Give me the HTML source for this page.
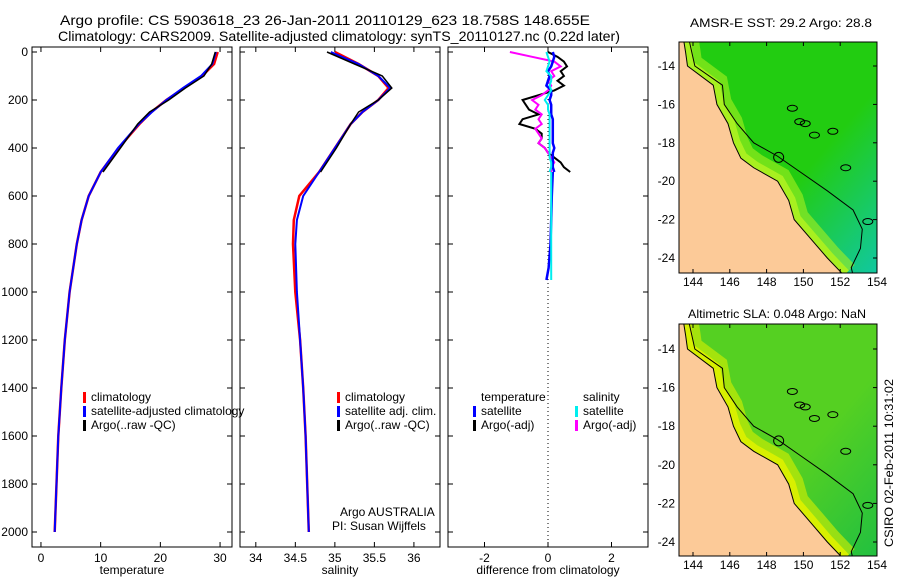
<!DOCTYPE html>
<html><head><meta charset="utf-8"><style>
html,body{margin:0;padding:0;background:#fff;width:900px;height:580px;overflow:hidden}
svg{display:block;font-family:"Liberation Sans",sans-serif;font-size:12px}
</style></head><body>
<svg id="fig" width="900" height="580" viewBox="0 0 900 580">
<text x="60" y="25" font-size="14" textLength="530" lengthAdjust="spacingAndGlyphs">Argo profile: CS 5903618_23 26-Jan-2011 20110129_623 18.758S 148.655E</text>
<text x="58" y="41" font-size="14" textLength="562" lengthAdjust="spacingAndGlyphs">Climatology: CARS2009. Satellite-adjusted climatology: synTS_20110127.nc (0.22d later)</text>
<g id="g"></g>
<text x="690" y="27" textLength="182" lengthAdjust="spacingAndGlyphs">AMSR-E SST: 29.2 Argo: 28.8</text>
<text x="688" y="318" textLength="178" lengthAdjust="spacingAndGlyphs">Altimetric SLA: 0.048 Argo: NaN</text>
<text transform="translate(893,547) rotate(-90)" textLength="168" lengthAdjust="spacingAndGlyphs">CSIRO 02-Feb-2011 10:31:02</text>
</svg>
<script>
// depth grid and series
const depths=[0,50,100,150,200,250,300,400,500,600,700,800,1000,1200,1400,1600,1800,2000];
const tempClim=[29.6,29,27,24,21,18.5,16.5,13,10,8,6.8,6,4.8,4,3.4,2.9,2.6,2.3];
const tempSat=[29.3,28.7,26.8,23.8,21,18.6,16.4,12.9,10,8,6.8,6,4.8,4,3.4,2.9,2.6,2.3];
const tempArgo=[29.2,28.6,27.3,24.2,21.4,18.2,16.2,13.3,10.4];
const salClim=[35.0,35.3,35.55,35.68,35.55,35.35,35.2,35.0,34.8,34.55,34.48,34.47,34.5,34.56,34.6,34.63,34.65,34.67];
const salSat=[34.95,35.3,35.55,35.7,35.55,35.35,35.2,35.0,34.8,34.6,34.52,34.5,34.52,34.56,34.6,34.63,34.65,34.67];
const salArgo=[34.9,35.25,35.6,35.72,35.55,35.3,35.2,35.02,34.82];
const diffDepths=[0,20,40,60,80,100,120,140,160,180,200,220,240,260,280,300,320,340,360,380,400,420,440,460,480,500];
const dTsat=[0.15,0.2,0.15,0.1,0.0,0.05,0.0,-0.05,0.1,0.1,0.05,0.1,0.1,0.1,0.15,0.15,0.15,0.15,0.15,0.15,0.2,0.15,0.15,0.15,0.15,0.2];
const dTargo=[0.0,0.3,0.5,0.6,0.4,0.5,0.3,0.5,0.2,-0.3,-0.8,-0.7,-0.6,-0.3,-0.8,-0.9,-0.4,-0.2,-0.2,-0.3,-0.1,0.0,0.2,0.4,0.5,0.7];
const dSsat=[-0.05,0.0,0.05,0.0,-0.05,0.1,0.1,0.05,0.1,0.0,-0.1,0.0,0.0,0.05,0.05,0.05,0.05,0.05,0.05,0.05,0.05,0.05,0.05,0.1,0.1,0.05];
const dSargo=[-1.2,-0.5,0.2,0.4,0.1,0.2,0.0,0.1,0.0,-0.2,-0.5,-0.3,-0.4,-0.2,-0.3,-0.2,-0.4,-0.3,-0.2,-0.3,-0.1,0.0,0.1,0.2,0.1,0.1];
const diffDeep=[500,600,700,800,900,950];
const dTdeep=[0.15,0.12,0.1,0.08,0.02,-0.05];
const dSdeep=[0.1,0.1,0.1,0.1,0.1,0.1];
const depthTicks=[0,200,400,600,800,1000,1200,1400,1600,1800,2000];
const tempTicks=[0,10,20,30], salTicks=[34,34.5,35,35.5,36], diffTicks=[-2,0,2];
const lonTicks=[144,146,148,150,152,154], latTicks=[-14,-16,-18,-20,-22,-24];
const coastLat=[-12.7,-13.3,-14,-15,-16,-17,-18,-18.8,-19.3,-20,-21,-22,-23,-24,-24.7,-24.9];
const coastLon=[143.5,143.6,143.7,145.1,145.3,145.9,146.2,146.6,147.3,148.6,149.2,149.5,150.4,151.3,152.0,152.2];
const shelfLat=[-12.7,-14,-15,-16,-17,-18,-18.7,-19.5,-20.5,-21.5,-22.5,-23.5,-24.5,-24.9];
const shelfLon=[143.8,144.1,145.6,145.7,146.4,147.3,148.6,149.8,151.3,152.7,153.2,153.1,152.6,152.7];
const reefLon=[149.4,149.8,150.6,151.6,152.3,150.1,153.5];
const reefLat=[-16.2,-16.9,-17.6,-17.4,-19.3,-17.0,-22.1];

const NS="http://www.w3.org/2000/svg", G=document.getElementById('g');
function mk(t,a,p){const e=document.createElementNS(NS,t);for(const k in a)e.setAttribute(k,a[k]);(p||G).appendChild(e);return e;}
const Y0=47,Y1=547,yD=d=>52+d*0.24;
function xs(x0,x1,v0,v1){return v=>x0+(v-v0)/(v1-v0)*(x1-x0);}
const px=[{x0:32,x:xs(32,232,-1.5,32),ticks:tempTicks,lab:'temperature',n:'temperature'},
 {x0:240,x:xs(240,440,33.8,36.33),ticks:salTicks,lab:'salinity',n:'salinity'},
 {x0:448,x:xs(448,648,-3.15,3.15),ticks:diffTicks,lab:'difference from climatology',n:'difference'}];
px.forEach((p,i)=>{
 const r=mk('rect',{x:p.x0,y:Y0,width:200,height:500,fill:'none',stroke:'#000'});
 
 
 p.ticks.forEach(t=>{const X=p.x(t);mk('line',{x1:X,x2:X,y1:Y0,y2:Y0+5,stroke:'#000'});mk('line',{x1:X,x2:X,y1:Y1,y2:Y1-5,stroke:'#000'});
  const tx=mk('text',{x:X,y:Y1+15,'text-anchor':'middle'});tx.textContent=t;
  
  });
 depthTicks.forEach(d=>{mk('line',{x1:p.x0,x2:p.x0+5,y1:yD(d),y2:yD(d),stroke:'#000'});mk('line',{x1:p.x0+200,x2:p.x0+195,y1:yD(d),y2:yD(d),stroke:'#000'});
  if(i==0){const tx=mk('text',{x:28,y:yD(d)+4,'text-anchor':'end'});tx.textContent=d;
  
  }});
 const xl=mk('text',{x:p.x0+100,y:574,'text-anchor':'middle'});xl.textContent=p.lab;
 
 
});
function line(p,vals,ds,col,w,name){const pts=vals.map((v,i)=>p.x(v).toFixed(1)+','+yD(ds[i]).toFixed(1)).join(' ');
 const e=mk('polyline',{points:pts,fill:'none',stroke:col,'stroke-width':w});
 
 }
line(px[0],tempClim,depths,'#f00',2.5,'temp-climatology');
line(px[0],tempSat,depths,'#00f',2,'temp-satellite');
line(px[0],tempArgo,depths,'#000',1.5,'temp-argo');
line(px[1],salClim,depths,'#f00',2.5,'sal-climatology');
line(px[1],salSat,depths,'#00f',2,'sal-satellite');
line(px[1],salArgo,depths,'#000',1.5,'sal-argo');
mk('line',{x1:px[2].x(0),x2:px[2].x(0),y1:Y0,y2:Y1,stroke:'#000','stroke-dasharray':'1,3'});
line(px[2],dTargo,diffDepths,'#000',2,'diff-temp-argo');
line(px[2],dSargo,diffDepths,'#f0f',2,'diff-sal-argo');
line(px[2],dTsat,diffDepths,'#00f',2.5,'diff-temp-satellite');
line(px[2],dTdeep,diffDeep,'#00f',2.5,'diff-temp-satellite-deep');
line(px[2],dSsat,diffDepths,'#0ee',2,'diff-sal-satellite');
line(px[2],dSdeep,diffDeep,'#0ee',2,'diff-sal-satellite-deep');
function leg(x,y,col,txt,n){if(col)mk('rect',{x:x,y:y-9,width:3,height:11,fill:col});const t=mk('text',{x:x+8,y:y});t.textContent=txt;
 
 }
leg(83,401,'#f00','climatology','legend-climatology');leg(83,415,'#00f','satellite-adjusted climatology','legend-satellite');leg(83,429,'#000','Argo(..raw -QC)','legend-argo');
leg(337,401,'#f00','climatology','legend-sal-climatology');leg(337,415,'#00f','satellite adj. clim.','legend-sal-satellite');leg(337,429,'#000','Argo(..raw -QC)','legend-sal-argo');
leg(473,401,null,'temperature','legend-temp-header');leg(473,415,'#00f','satellite','legend-diff-temp-sat');leg(473,429,'#000','Argo(-adj)','legend-diff-temp-argo');
leg(575,401,null,'salinity','legend-sal-header');leg(575,415,'#0ee','satellite','legend-diff-sal-sat');leg(575,429,'#f0f','Argo(-adj)','legend-diff-sal-argo');
let t=mk('text',{x:340,y:516});t.textContent='Argo AUSTRALIA';
t=mk('text',{x:332,y:530});t.textContent='PI: Susan Wijffels';
// maps
function map(yTop,yBot,y14,y24,c1,c2,band,n){
 const mx=v=>693+(v-144)*18.4, my=v=>y14+(v+14)*(y24-y14)/-10;
 const cl='clip'+n;const cp=mk('clipPath',{id:cl});mk('rect',{x:679,y:yTop,width:198,height:yBot-yTop},cp);
 const g=mk('g',{'clip-path':'url(#'+cl+')'});
 
 
 const gr=mk('linearGradient',{id:'gr'+n,x1:0,y1:0,x2:1,y2:1});
 mk('stop',{offset:'0',"stop-color":c1},gr);mk('stop',{offset:'0.6',"stop-color":c1},gr);mk('stop',{offset:'1',"stop-color":c2},gr);
 mk('rect',{x:679,y:yTop,width:198,height:yBot-yTop,fill:'url(#gr'+n+')'},g);
 let pts=coastLon.map((v,i)=>mx(v)+','+my(coastLat[i])).join(' ');
 mk('polyline',{points:pts,fill:'none',stroke:band,'stroke-width':30,'stroke-opacity':0.6},g);
 mk('polyline',{points:pts,fill:'none',stroke:band,'stroke-width':14},g);
 mk('polygon',{points:pts+' 679,'+(yBot+2)+' 679,'+(yTop-2),fill:'#fcca98',stroke:'#000','stroke-width':1},g);
 mk('polyline',{points:shelfLon.map((v,i)=>mx(v)+','+my(shelfLat[i])).join(' '),fill:'none',stroke:'#000'},g);
 reefLon.forEach((v,i)=>mk('ellipse',{cx:mx(v),cy:my(reefLat[i]),rx:5,ry:3,fill:'none',stroke:'#000'},g));
 mk('circle',{cx:mx(148.655),cy:my(-18.758),r:5,fill:'none',stroke:'#000'},g);
 mk('rect',{x:679,y:yTop,width:198,height:yBot-yTop,fill:'none',stroke:'#000'});
 lonTicks.forEach(v=>{const tx=mk('text',{x:mx(v),y:yBot+13,'text-anchor':'middle'});tx.textContent=v;mk('line',{x1:mx(v),x2:mx(v),y1:yBot,y2:yBot-4,stroke:'#000'});mk('line',{x1:mx(v),x2:mx(v),y1:yTop,y2:yTop+4,stroke:'#000'});});
 latTicks.forEach(v=>{const tx=mk('text',{x:675,y:my(v)+4,'text-anchor':'end'});tx.textContent=v;mk('line',{x1:877,x2:873,y1:my(v),y2:my(v),stroke:'#000'});});
}
map(42,273,66,258,'#22cc11','#11c8a0','#a8f020','sst-map');
map(324,556,349,542,'#55d022','#22c040','#d8f000','sla-map');
</script>
</body></html>
